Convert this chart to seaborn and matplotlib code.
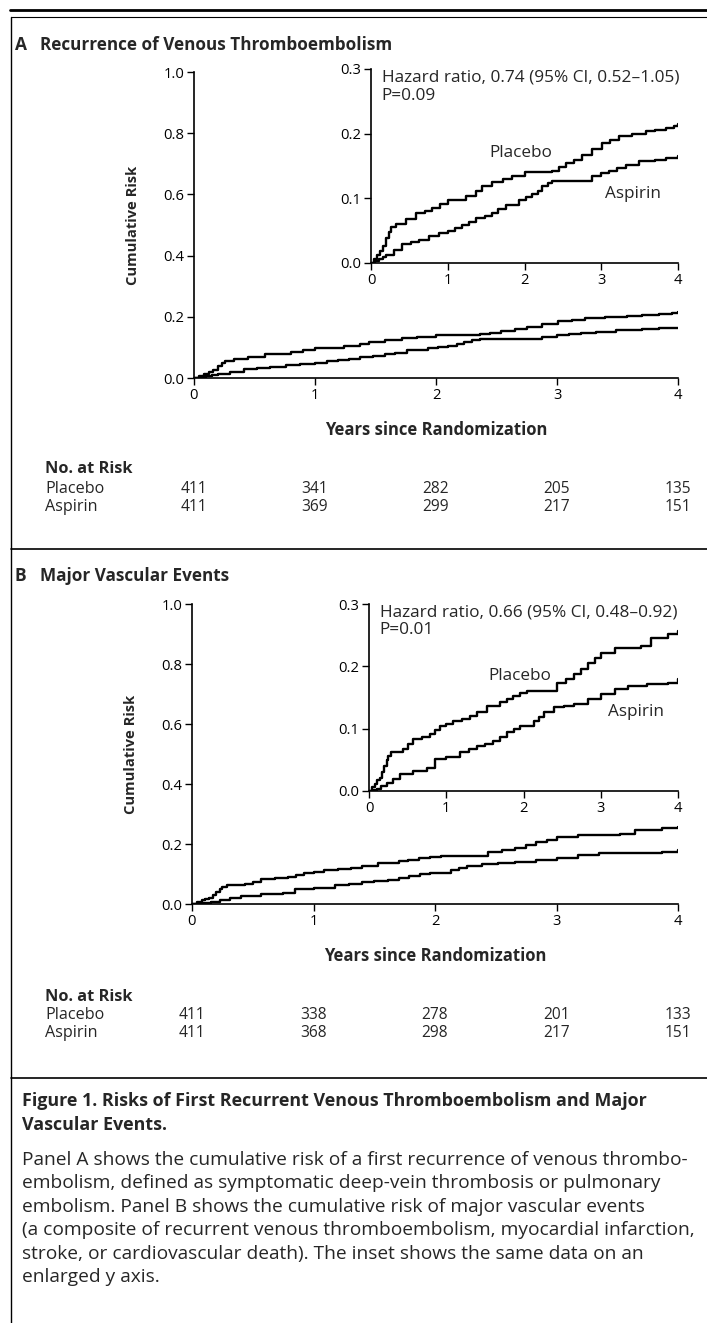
import matplotlib
matplotlib.use("Agg")
import matplotlib.pyplot as plt
import matplotlib.transforms as mtransforms
from matplotlib.lines import Line2D
import seaborn as sns
import pandas as pd

sns.set_style("white")
plt.rcParams['font.family'] = ['Open Sans', 'DejaVu Sans']

# ---------------- data ----------------
years_ticks = [0, 1, 2, 3, 4]
main_yticks = [0.0, 0.2, 0.4, 0.6, 0.8, 1.0]
inset_yticks = [0.0, 0.1, 0.2, 0.3]

# Panel A: recurrence of VTE
a_placebo_t = [0, 0.04, 0.08, 0.12, 0.16, 0.20, 0.23, 0.26, 0.33, 0.45, 0.59, 0.70, 0.80, 0.90, 1.00, 1.24, 1.37, 1.45, 1.58, 1.72, 1.84, 2.00, 2.36, 2.45, 2.54, 2.65, 2.75, 2.88, 3.01, 3.12, 3.23, 3.40, 3.58, 3.70, 3.84, 3.95, 4.00]
a_placebo_v = [0, 0.006, 0.012, 0.018, 0.026, 0.038, 0.048, 0.056, 0.061, 0.068, 0.077, 0.080, 0.085, 0.092, 0.098, 0.104, 0.111, 0.119, 0.125, 0.130, 0.135, 0.141, 0.143, 0.148, 0.154, 0.160, 0.167, 0.176, 0.186, 0.190, 0.196, 0.200, 0.204, 0.206, 0.208, 0.212, 0.215]
a_aspirin_t = [0, 0.05, 0.10, 0.15, 0.195, 0.30, 0.41, 0.52, 0.63, 0.76, 0.88, 1.00, 1.10, 1.19, 1.28, 1.37, 1.48, 1.58, 1.66, 1.76, 1.93, 2.02, 2.10, 2.17, 2.23, 2.30, 2.36, 2.54, 2.71, 2.88, 3.00, 3.10, 3.20, 3.32, 3.49, 3.70, 3.84, 4.00]
a_aspirin_v = [0, 0.003, 0.006, 0.010, 0.013, 0.020, 0.029, 0.033, 0.035, 0.042, 0.046, 0.050, 0.054, 0.058, 0.063, 0.069, 0.073, 0.077, 0.083, 0.090, 0.098, 0.102, 0.106, 0.112, 0.119, 0.124, 0.127, 0.127, 0.127, 0.135, 0.139, 0.143, 0.147, 0.151, 0.157, 0.160, 0.162, 0.165]

# Panel B: major vascular events
b_placebo_t = [0, 0.04, 0.08, 0.11, 0.14, 0.17, 0.20, 0.23, 0.25, 0.29, 0.44, 0.50, 0.57, 0.68, 0.79, 0.86, 0.92, 1.00, 1.09, 1.20, 1.31, 1.40, 1.53, 1.70, 1.78, 1.87, 1.96, 2.05, 2.31, 2.44, 2.55, 2.66, 2.75, 2.83, 2.92, 3.00, 3.18, 3.52, 3.65, 3.87, 4.00]
b_placebo_v = [0, 0.006, 0.012, 0.017, 0.021, 0.030, 0.040, 0.050, 0.056, 0.062, 0.067, 0.075, 0.083, 0.087, 0.091, 0.098, 0.104, 0.108, 0.112, 0.116, 0.120, 0.126, 0.137, 0.142, 0.147, 0.153, 0.157, 0.161, 0.161, 0.174, 0.180, 0.187, 0.196, 0.206, 0.214, 0.222, 0.230, 0.233, 0.246, 0.252, 0.257]
b_aspirin_t = [0, 0.05, 0.10, 0.16, 0.23, 0.31, 0.40, 0.57, 0.75, 0.85, 1.00, 1.18, 1.29, 1.40, 1.50, 1.61, 1.70, 1.79, 1.88, 1.96, 2.13, 2.20, 2.26, 2.39, 2.52, 2.66, 2.83, 3.00, 3.18, 3.35, 3.60, 3.87, 4.00]
b_aspirin_v = [0, 0.002, 0.004, 0.008, 0.013, 0.020, 0.027, 0.032, 0.037, 0.051, 0.054, 0.062, 0.067, 0.072, 0.076, 0.080, 0.087, 0.094, 0.099, 0.104, 0.112, 0.119, 0.126, 0.134, 0.137, 0.139, 0.147, 0.155, 0.163, 0.169, 0.171, 0.174, 0.179]

arms = ["Placebo", "Aspirin"]
a_risk_placebo = [411, 341, 282, 205, 135]
a_risk_aspirin = [411, 369, 299, 217, 151]
b_risk_placebo = [411, 338, 278, 201, 133]
b_risk_aspirin = [411, 368, 298, 217, 151]

a_title = "Recurrence of Venous Thromboembolism"
b_title = "Major Vascular Events"
a_hr = "Hazard ratio, 0.74 (95% CI, 0.52\u20131.05)"
a_p = "P=0.09"
b_hr = "Hazard ratio, 0.66 (95% CI, 0.48\u20130.92)"
b_p = "P=0.01"

caption_title = ["Figure 1. Risks of First Recurrent Venous Thromboembolism and Major",
                 "Vascular Events."]
caption_body = ["Panel A shows the cumulative risk of a first recurrence of venous thrombo-",
                "embolism, defined as symptomatic deep-vein thrombosis or pulmonary",
                "embolism. Panel B shows the cumulative risk of major vascular events",
                "(a composite of recurrent venous thromboembolism, myocardial infarction,",
                "stroke, or cardiovascular death). The inset shows the same data on an",
                "enlarged y axis."]

# ---------------- figure ----------------
W, H = 707, 1323
fig = plt.figure(figsize=(W / 100, H / 100), dpi=100)
fig.patch.set_facecolor("white")


def px_axes(x0, x1, y_top, y_bot):
    return fig.add_axes([x0 / W, 1 - y_bot / H, (x1 - x0) / W, (y_bot - y_top) / H])


def make_df(pt, pv, at, av):
    return pd.DataFrame({
        "t": list(pt) + list(at),
        "v": list(pv) + list(av),
        "arm": ["Placebo"] * len(pt) + ["Aspirin"] * len(at),
    })


def style_axes(ax, yticks, fs):
    for s in ["top", "right"]:
        ax.spines[s].set_visible(False)
    for s in ["left", "bottom"]:
        ax.spines[s].set_color("black")
        ax.spines[s].set_linewidth(1.2)
    ax.set_xlim(0, 4)
    ax.set_ylim(0, yticks[-1])
    ax.set_xticks(years_ticks)
    ax.set_xticklabels([str(t) for t in years_ticks], fontsize=fs)
    ax.set_yticks(yticks)
    ax.set_yticklabels([f"{y:.1f}" for y in yticks], fontsize=fs)
    ax.tick_params(axis="both", direction="out", length=5, width=1.0, color="black",
                   labelcolor="black", pad=2, bottom=True, left=True)
    ax.set_xlabel("")
    ax.set_ylabel("")
    ax.patch.set_alpha(0)


def draw_panel(letter, title, df, risk_p, risk_a, hr, p, main_box, inset_box,
               title_y, lab_placebo, lab_aspirin, risk_y):
    ax = px_axes(*main_box)
    sns.lineplot(data=df, x="t", y="v", hue="arm", palette=["black", "black"],
                 drawstyle="steps-post", estimator=None, sort=False, legend=False,
                 linewidth=1.7, ax=ax)
    style_axes(ax, main_yticks, 10.6)
    ax.set_xlabel("Years since Randomization", fontsize=12, fontweight="bold", labelpad=13)
    ax.set_ylabel("Cumulative Risk", fontsize=10.6, fontweight="bold", labelpad=17)

    ins = px_axes(*inset_box)
    sns.lineplot(data=df, x="t", y="v", hue="arm", palette=["black", "black"],
                 drawstyle="steps-post", estimator=None, sort=False, legend=False,
                 linewidth=1.7, ax=ins)
    style_axes(ins, inset_yticks, 10.6)
    ins.text(0.035, 0.955, hr, transform=ins.transAxes, fontsize=12.4, va="center", ha="left")
    ins.text(0.035, 0.86, p, transform=ins.transAxes, fontsize=12.4, va="center", ha="left")
    ins.text(lab_placebo[0], lab_placebo[1], "Placebo", fontsize=12.3, va="center", ha="left")
    ins.text(lab_aspirin[0], lab_aspirin[1], "Aspirin", fontsize=12.3, va="center", ha="left")

    fig.text(15 / W, 1 - title_y / H, letter, fontsize=12.5, fontweight="bold", va="center")
    fig.text(40 / W, 1 - title_y / H, title, fontsize=12.3, fontweight="bold", va="center")

    # risk table
    trans = mtransforms.blended_transform_factory(ax.transData, fig.transFigure)
    fig.text(45 / W, 1 - risk_y[0] / H, "No. at Risk", fontsize=11.8, fontweight="bold", va="center")
    for name, vals, yy in [(arms[0], risk_p, risk_y[1]), (arms[1], risk_a, risk_y[2])]:
        fig.text(45 / W, 1 - yy / H, name, fontsize=11.6, va="center")
        for t, n in zip(years_ticks, vals):
            ax.text(t, 1 - yy / H, str(n), transform=trans, fontsize=11.2,
                    va="center", ha="center")
    return ax


dfA = make_df(a_placebo_t, a_placebo_v, a_aspirin_t, a_aspirin_v)
dfB = make_df(b_placebo_t, b_placebo_v, b_aspirin_t, b_aspirin_v)

draw_panel("A", a_title, dfA, a_risk_placebo, a_risk_aspirin, a_hr, a_p,
           (194, 678, 72, 378), (371, 678, 69, 263), 45,
           (1.54, 0.17), (3.05, 0.106), (469, 489, 507))
draw_panel("B", b_title, dfB, b_risk_placebo, b_risk_aspirin, b_hr, b_p,
           (192, 678, 604, 904), (369, 678, 604, 791), 576,
           (1.55, 0.185), (3.09, 0.126), (997, 1015, 1033))

# frame lines
def hline(y, x0, x1, lw):
    fig.add_artist(Line2D([x0 / W, x1 / W], [1 - y / H, 1 - y / H], color="black",
                          linewidth=lw, transform=fig.transFigure))

hline(10, 10, 707, 2.0)
hline(17, 11, 707, 0.8)
hline(549, 11, 707, 1.2)
hline(1078, 11, 707, 1.2)
fig.add_artist(Line2D([11 / W, 11 / W], [1 - 17 / H, 0], color="black", linewidth=1.0,
                      transform=fig.transFigure))

# caption
for i, line in enumerate(caption_title):
    fig.text(22 / W, 1 - (1101 + 23.5 * i) / H, line, fontsize=12.9, fontweight="bold", va="center")
for i, line in enumerate(caption_body):
    fig.text(22 / W, 1 - (1160 + 23.4 * i) / H, line, fontsize=13.8, va="center")

fig.savefig("out.png", dpi=100)
